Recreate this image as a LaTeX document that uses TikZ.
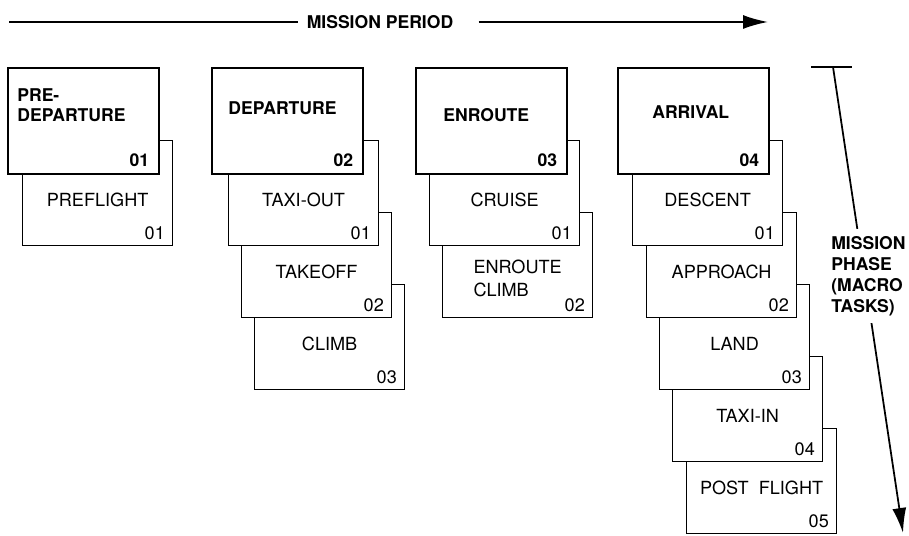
\documentclass[tikz,border=0pt]{standalone}
\usepackage{fontspec}
\setmainfont{TeX Gyre Heros}
\usetikzlibrary{arrows.meta}

\tikzset{
  phase/.style={draw, line width=1.4pt, fill=white, anchor=north west,
    minimum width=3.02cm, minimum height=2.12cm, inner sep=0pt},
  task/.style={draw, line width=0.7pt, fill=white, anchor=north west,
    minimum width=3cm, minimum height=2.1cm, inner sep=0pt},
  phasename/.style={font=\fontsize{10}{11.4}\selectfont\bfseries, align=left,
    anchor=west, inner sep=0pt},
  taskname/.style={font=\fontsize{10.3}{13}\selectfont, align=left, inner sep=0pt},
  phasenum/.style={font=\fontsize{10}{12}\selectfont\bfseries, anchor=east, inner sep=0pt},
  tasknum/.style={font=\fontsize{10.3}{12}\selectfont, anchor=east, inner sep=0pt},
  bigarrow/.style={line width=1pt, -{Latex[length=0.5cm,width=0.28cm]}}
}

\begin{document}
\begin{tikzpicture}[x=0.02cm, y=-0.02cm]
        \useasboundingbox (0,0) rectangle (909,536);

        % Mission period
        \coordinate (pstart) at (9,22);
        \coordinate (pend) at (768,22);
        \node[font=\fontsize{10}{12}\selectfont\bfseries, inner sep=0pt] (period) at (380,22) {MISSION PERIOD};
        \draw[line width=1pt] (pstart) -- ([xshift=-0.16cm]period.west);
        \draw[bigarrow] ([xshift=0.5cm]period.east) -- (pend);

        % Pre-departure
        \node[task] (pre1) at (22,140) {};
        \node[taskname] (pre1t) at ([yshift=-1.2cm]pre1.north) {PREFLIGHT};
        \node[tasknum] (pre1n) at ([xshift=-0.16cm,yshift=0.26cm]pre1.south east) {01};

        \node[phase] (pre) at (7,67) {};
        \node[phasename] (pret) at (17,105) {PRE-\\DEPARTURE};
        \node[phasenum] (pren) at ([xshift=-0.22cm,yshift=0.3cm]pre.south east) {01};

        % Departure
        \node[task] (dep3) at (254,284) {};
        \node[taskname] (dep3t) at ([yshift=-1.2cm]dep3.north) {CLIMB};
        \node[tasknum] (dep3n) at ([xshift=-0.16cm,yshift=0.26cm]dep3.south east) {03};

        \node[task] (dep2) at (241,212) {};
        \node[taskname] (dep2t) at ([yshift=-1.2cm]dep2.north) {TAKEOFF};
        \node[tasknum] (dep2n) at ([xshift=-0.16cm,yshift=0.26cm]dep2.south east) {02};

        \node[task] (dep1) at (228,140) {};
        \node[taskname] (dep1t) at ([yshift=-1.2cm]dep1.north) {TAXI-OUT};
        \node[tasknum] (dep1n) at ([xshift=-0.16cm,yshift=0.26cm]dep1.south east) {01};

        \node[phase] (dep) at (211,67) {};
        \node[phasename] (dept) at (228,108) {DEPARTURE};
        \node[phasenum] (depn) at ([xshift=-0.22cm,yshift=0.3cm]dep.south east) {02};

        % Enroute
        \node[task] (enr2) at (442,212) {};
        \node[taskname] (enr2t) at ([yshift=-1.32cm]enr2.north) {ENROUTE\\CLIMB};
        \node[tasknum] (enr2n) at ([xshift=-0.16cm,yshift=0.26cm]enr2.south east) {02};

        \node[task] (enr1) at (429,140) {};
        \node[taskname] (enr1t) at ([yshift=-1.2cm]enr1.north) {CRUISE};
        \node[tasknum] (enr1n) at ([xshift=-0.16cm,yshift=0.26cm]enr1.south east) {01};

        \node[phase] (enr) at (415,67) {};
        \node[phasename] (enrt) at (443,115) {ENROUTE};
        \node[phasenum] (enrn) at ([xshift=-0.22cm,yshift=0.3cm]enr.south east) {03};

        % Arrival
        \node[task] (arr5) at (686,428) {};
        \node[taskname] (arr5t) at ([yshift=-1.2cm]arr5.north) {POST\ \ FLIGHT};
        \node[tasknum] (arr5n) at ([xshift=-0.16cm,yshift=0.26cm]arr5.south east) {05};

        \node[task] (arr4) at (672,356) {};
        \node[taskname] (arr4t) at ([yshift=-1.2cm]arr4.north) {TAXI-IN};
        \node[tasknum] (arr4n) at ([xshift=-0.16cm,yshift=0.26cm]arr4.south east) {04};

        \node[task] (arr3) at (659,284) {};
        \node[taskname] (arr3t) at ([yshift=-1.2cm]arr3.north) {LAND};
        \node[tasknum] (arr3n) at ([xshift=-0.16cm,yshift=0.26cm]arr3.south east) {03};

        \node[task] (arr2) at (646,212) {};
        \node[taskname] (arr2t) at ([yshift=-1.2cm]arr2.north) {APPROACH};
        \node[tasknum] (arr2n) at ([xshift=-0.16cm,yshift=0.26cm]arr2.south east) {02};

        \node[task] (arr1) at (632,140) {};
        \node[taskname] (arr1t) at ([yshift=-1.2cm]arr1.north) {DESCENT};
        \node[tasknum] (arr1n) at ([xshift=-0.16cm,yshift=0.26cm]arr1.south east) {01};

        \node[phase] (arr) at (617,67) {};
        \node[phasename] (arrt) at (652,112) {ARRIVAL};
        \node[phasenum] (arrn) at ([xshift=-0.22cm,yshift=0.3cm]arr.south east) {04};

        % Mission phase
        \coordinate (tickl) at (811,67);
        \coordinate (tickr) at (852,67);
        \coordinate (ptop) at (833,67);
        \coordinate (pbot) at (903,533);
        \draw[line width=1pt] (tickl) -- (tickr);
        \draw[bigarrow] (ptop) -- (pbot);
        \node[phasename, fill=white, inner sep=0.14cm, font=\fontsize{10}{12}\selectfont\bfseries]
            (mphase) at (824,276) {MISSION\\PHASE\\(MACRO\\TASKS)};
\end{tikzpicture}
\end{document}
